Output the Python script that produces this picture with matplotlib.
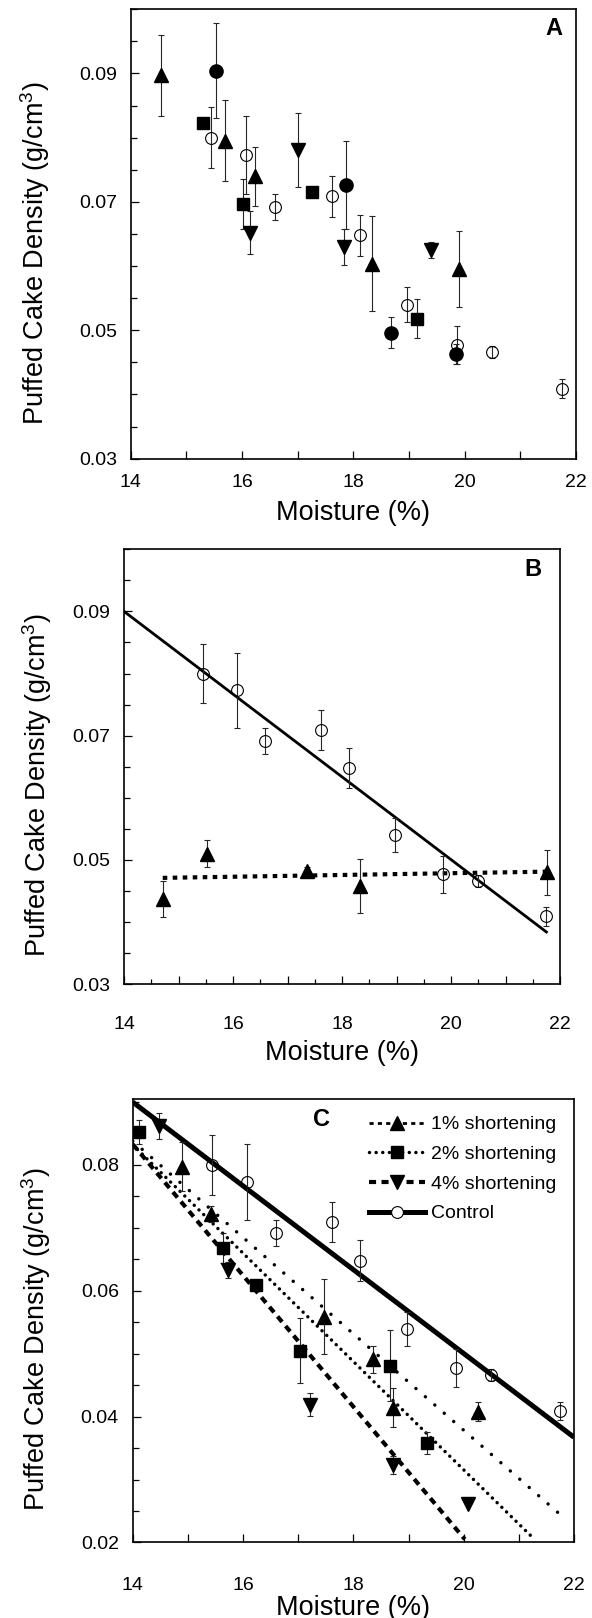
import numpy as np
import matplotlib
matplotlib.use("Agg")
import matplotlib.pyplot as plt
from matplotlib.lines import Line2D
from matplotlib.ticker import MultipleLocator, FuncFormatter

plt.rcParams.update({
    "font.family": ["Liberation Sans", "DejaVu Sans"],
    "mathtext.fontset": "custom",
    "mathtext.rm": "Liberation Sans",
    "mathtext.it": "Liberation Sans:italic",
    "mathtext.bf": "Liberation Sans:bold",
})

# ---- control (open circles), same samples in all panels ----
ctrl_x = [15.44, 16.07, 16.59, 17.62, 18.12, 18.97, 19.86, 20.49, 21.75]
ctrl_y = [0.0800, 0.0773, 0.0692, 0.0709, 0.0648, 0.0540, 0.0477, 0.0466, 0.0409]
ctrl_err = [0.0047, 0.0060, 0.0021, 0.0032, 0.0032, 0.0027, 0.0030, 0.0009, 0.0015]
ctrl_fit = (0.18324, -0.00666)          # y = a + b*x

# ---- panel A ----
triA_x = [14.54, 15.70, 16.23, 18.34, 19.89]
triA_y = [0.0897, 0.0795, 0.0740, 0.0604, 0.0596]
triA_err = [0.0063, 0.0063, 0.0046, 0.0074, 0.0059]

circA_x = [15.54, 17.86, 18.68, 19.84]
circA_y = [0.0904, 0.0726, 0.0496, 0.0463]
circA_err = [0.0074, 0.0069, 0.0024, 0.0016]

sqA_x = [15.29, 16.02, 17.26, 19.14]
sqA_y = [0.0823, 0.0697, 0.0715, 0.0518]
sqA_err = [0.0, 0.0039, 0.0, 0.0030]

dtriA_x = [16.15, 17.01, 17.83, 19.39]
dtriA_y = [0.0652, 0.0781, 0.0630, 0.0625]
dtriA_err = [0.0033, 0.0058, 0.0028, 0.0013]

# ---- panel B ----
triB_x = [14.71, 15.52, 17.36, 18.33, 21.76]
triB_y = [0.0437, 0.0510, 0.0482, 0.0458, 0.0480]
triB_err = [0.0029, 0.0022, 0.0006, 0.0044, 0.0036]
triB_fit = (0.04501, 0.000142)

# ---- panel C ----
c1_x = [14.89, 15.41, 17.47, 18.35, 18.71, 20.26]
c1_y = [0.0797, 0.0722, 0.0559, 0.0491, 0.0414, 0.0408]
c1_err = [0.0039, 0.0013, 0.0060, 0.0022, 0.0031, 0.0015]
c1_fit = (0.19104, -0.00766)

c2_x = [14.12, 15.64, 16.24, 17.04, 18.67, 19.34]
c2_y = [0.0852, 0.0668, 0.0609, 0.0505, 0.0481, 0.0358]
c2_err = [0.0019, 0.0024, 0.0, 0.0051, 0.0056, 0.0018]
c2_fit = (0.20374, -0.00861)

c4_x = [14.47, 15.72, 17.22, 18.71, 20.07]
c4_y = [0.0862, 0.0633, 0.0419, 0.0323, 0.0261]
c4_err = [0.0020, 0.0013, 0.0018, 0.0015, 0.0]
c4_fit = (0.22932, -0.01043)

legend_labels = ["1% shortening", "2% shortening", "4% shortening", "Control"]

YLABEL = r"Puffed Cake Density (g/cm$^3$)"
XLABEL = "Moisture (%)"

EBAR = dict(fmt="none", ecolor="0.15", elinewidth=0.8, capsize=2.2, capthick=0.8, zorder=2)
FILLED = dict(linestyle="none", color="black", zorder=3)
OPEN = dict(linestyle="none", marker="o", ms=8.5, mfc="none", mec="black", mew=0.8, zorder=3)

STY_1 = dict(color="black", lw=2.5, linestyle=(0, (0.01, 3.6)), dash_capstyle="round")
STY_2 = dict(color="black", lw=2.5, linestyle=(0, (0.01, 1.9)), dash_capstyle="round")
STY_4 = dict(color="black", lw=3.0, linestyle=(0, (1.7, 1.3)), dash_capstyle="butt")


def series(ax, x, y, err, marker, ms):
    ax.errorbar(x, y, yerr=err, **EBAR)
    ax.plot(x, y, marker=marker, ms=ms, **FILLED)


def control(ax, x, y, err):
    ax.errorbar(x, y, yerr=err, **EBAR)
    ax.plot(x, y, **OPEN)


def fit_line(ax, coef, x0, x1, **kw):
    xx = np.linspace(x0, x1, 50)
    ax.plot(xx, coef[0] + coef[1] * xx, zorder=1, **kw)


def style_axes(ax, ylim, ylab_start, xpad, xlab_y, ylab_x, half_ticks=False):
    ax.set_xlim(14, 22)
    ax.set_ylim(*ylim)
    ax.xaxis.set_major_locator(MultipleLocator(1))
    ax.xaxis.set_major_formatter(FuncFormatter(
        lambda v, p: f"{v:.0f}" if round(v) % 2 == 0 else ""))
    if half_ticks:
        ax.xaxis.set_minor_locator(MultipleLocator(0.5))
    yt = np.arange(ylab_start, ylim[1] + 1e-9, 0.02)
    ax.set_yticks(yt)
    ax.yaxis.set_major_formatter(FuncFormatter(lambda v, p: f"{v:.2f}"))
    ax.yaxis.set_minor_locator(MultipleLocator(0.005))
    ax.tick_params(which="both", direction="in", top=False, right=False,
                   labelsize=14, width=0.9)
    ax.tick_params(axis="x", which="major", length=6, pad=xpad)
    ax.tick_params(axis="x", which="minor", length=3.5)
    ax.tick_params(axis="y", which="major", length=6, pad=10)
    ax.tick_params(axis="y", which="minor", length=4.5)
    for s in ax.spines.values():
        s.set_linewidth(1.2)
    ax.set_xlabel(XLABEL, fontsize=19.5)
    ax.xaxis.label.set_va("center")
    ax.xaxis.set_label_coords(0.5, xlab_y)
    ax.set_ylabel(YLABEL, fontsize=19.5)
    ax.yaxis.label.set_va("center")
    ax.yaxis.set_label_coords(ylab_x, 0.458)


fig = plt.figure(figsize=(5.92, 16.18), dpi=100)
axA = fig.add_axes([0.2208, 0.7165, 0.7522, 0.2778])
axB = fig.add_axes([0.2095, 0.3918, 0.7365, 0.2687])
axC = fig.add_axes([0.2242, 0.0467, 0.7454, 0.2741])

# ---- A ----
series(axA, triA_x, triA_y, triA_err, "^", 9.5)
series(axA, circA_x, circA_y, circA_err, "o", 9.5)
series(axA, sqA_x, sqA_y, sqA_err, "s", 9)
series(axA, dtriA_x, dtriA_y, dtriA_err, "v", 9.5)
control(axA, ctrl_x, ctrl_y, ctrl_err)
style_axes(axA, (0.03, 0.10), 0.03, 11, -0.121, -0.215)
axA.text(0.951, 0.956, "A", transform=axA.transAxes, ha="center", va="center",
         fontsize=17, fontweight="bold")

# ---- B ----
fit_line(axB, ctrl_fit, 14, ctrl_x[-1], color="black", lw=2.0)
fit_line(axB, triB_fit, triB_x[0], triB_x[-1], color="black", lw=3.0,
         linestyle=(0, (1.1, 1.3)), dash_capstyle="butt")
series(axB, triB_x, triB_y, triB_err, "^", 9.5)
control(axB, ctrl_x, ctrl_y, ctrl_err)
style_axes(axB, (0.03, 0.10), 0.03, 23, -0.158, -0.1995, half_ticks=True)
axB.text(0.937, 0.954, "B", transform=axB.transAxes, ha="center", va="center",
         fontsize=17, fontweight="bold")

# ---- C ----
fit_line(axC, ctrl_fit, 14, 22, color="black", lw=3.6, solid_capstyle="butt")
fit_line(axC, c1_fit, 14, 21.85, **STY_1)
fit_line(axC, c2_fit, 14, 21.28, **STY_2)
fit_line(axC, c4_fit, 14, 20.02, **STY_4)
series(axC, c1_x, c1_y, c1_err, "^", 9.5)
series(axC, c2_x, c2_y, c2_err, "s", 9)
series(axC, c4_x, c4_y, c4_err, "v", 9.5)
control(axC, ctrl_x, ctrl_y, ctrl_err)
style_axes(axC, (0.02, 0.0905), 0.02, 25, -0.148, -0.219)
axC.text(0.428, 0.954, "C", transform=axC.transAxes, ha="center", va="center",
         fontsize=17, fontweight="bold")

handles = [
    Line2D([0], [0], marker="^", ms=9.5, mfc="black", mec="black",
           color="black", lw=2.0, linestyle=(0, (1.5, 1.5))),
    Line2D([0], [0], marker="s", ms=9, mfc="black", mec="black", **STY_2),
    Line2D([0], [0], marker="v", ms=9.5, mfc="black", mec="black", **STY_4),
    Line2D([0], [0], marker="o", ms=8.5, mfc="white", mec="black", mew=0.8,
           color="black", lw=3.6),
]
axC.legend(handles, legend_labels, loc="upper left", bbox_to_anchor=(0.535, 0.962),
           frameon=False, fontsize=14, borderpad=0, borderaxespad=0,
           handlelength=2.9, handletextpad=0.3, labelspacing=0.62)

fig.savefig("out.png", dpi=100)
